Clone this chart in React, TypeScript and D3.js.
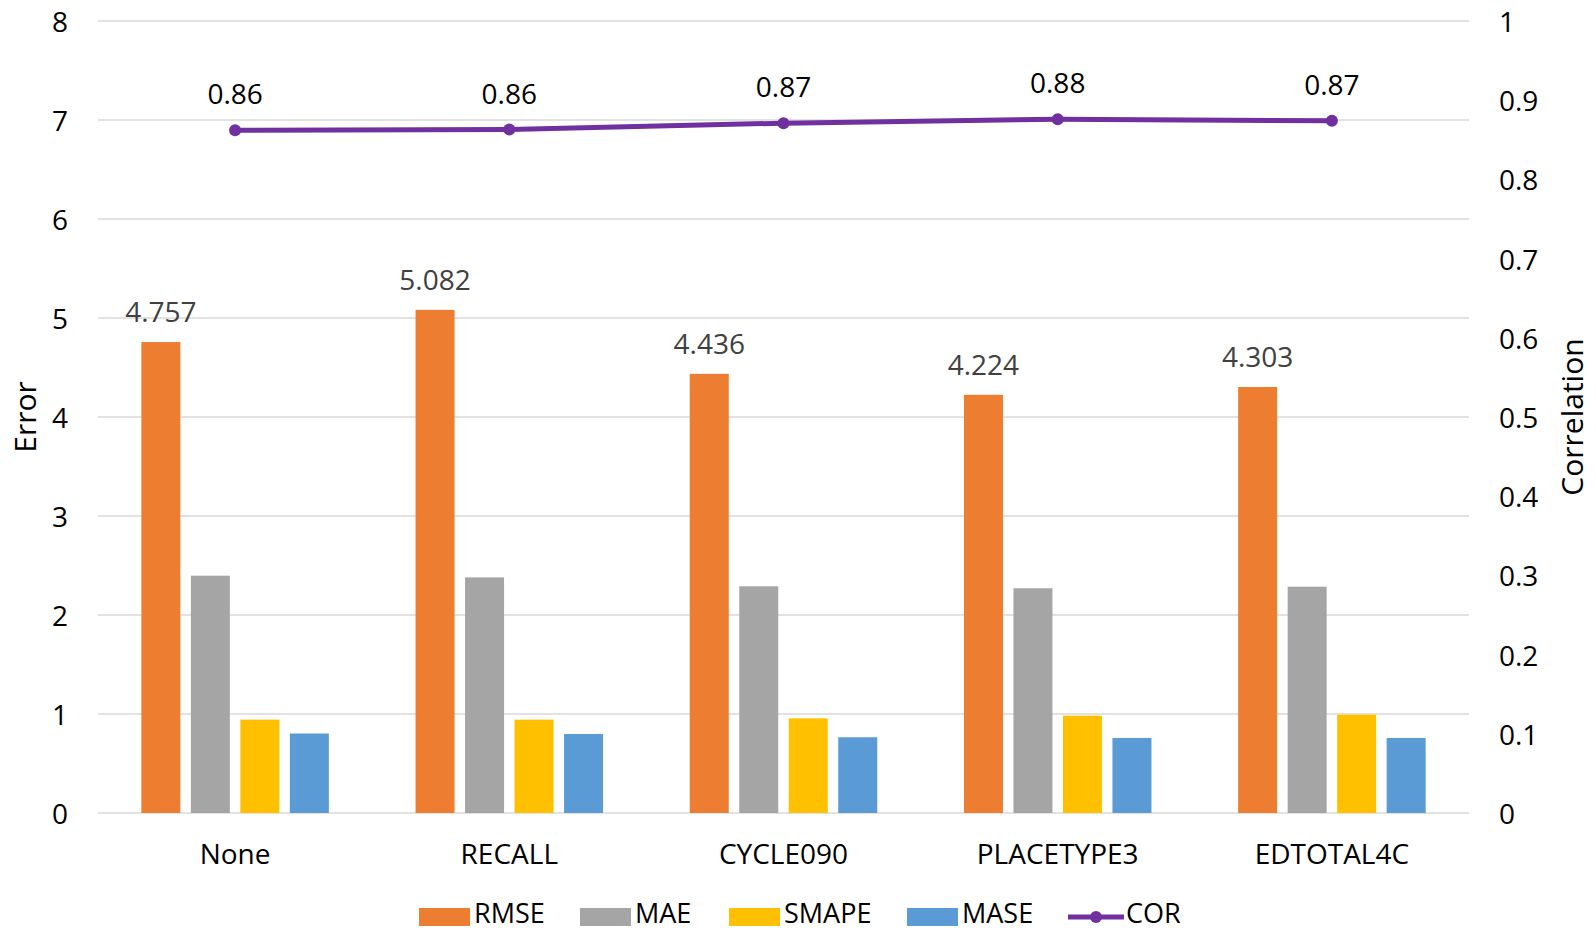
import React from "react";
import * as d3 from "d3";

const categories = ["None", "RECALL", "CYCLE090", "PLACETYPE3", "EDTOTAL4C"];
const seriesNames = ["RMSE", "MAE", "SMAPE", "MASE"];
const seriesColors = ["#ED7D31", "#A5A5A5", "#FFC000", "#5B9BD5"];
const rmse = [4.757, 5.082, 4.436, 4.224, 4.303];
const mae = [2.397, 2.38, 2.29, 2.27, 2.286];
const smape = [0.943, 0.943, 0.956, 0.983, 0.993];
const mase = [0.803, 0.798, 0.765, 0.758, 0.758];
const cor = [0.862, 0.863, 0.871, 0.876, 0.874];
const corLabels = ["0.86", "0.86", "0.87", "0.88", "0.87"];
const leftTicks = [0, 1, 2, 3, 4, 5, 6, 7, 8];
const rightTicks = [0, 0.1, 0.2, 0.3, 0.4, 0.5, 0.6, 0.7, 0.8, 0.9, 1];
const corColor = "#7030A0";

const W = 1596;
const H = 930;
const FONT = "'Open Sans', sans-serif";
const FS = 28;

export default function App() {
  const left = 98, right = 1469, top = 21, bottom = 813;
  const x = d3.scaleBand<string>().domain(categories).range([left, right]).padding(0);
  const inner = d3
    .scaleBand<string>()
    .domain(seriesNames)
    .range([-99, 99])
    .paddingInner(0.212)
    .paddingOuter(0.106);
  const yL = d3.scaleLinear().domain([0, 8]).range([bottom, top]);
  const yR = d3.scaleLinear().domain([0, 1]).range([bottom, top]);
  const series = [rmse, mae, smape, mase];
  const cx = (c: string) => (x(c) as number) + x.bandwidth() / 2;
  const line = d3
    .line<number>()
    .x((_, i) => cx(categories[i]))
    .y((d) => yR(d));

  const legendItems = [
    { name: "RMSE", x: 419, color: seriesColors[0] },
    { name: "MAE", x: 580, color: seriesColors[1] },
    { name: "SMAPE", x: 729, color: seriesColors[2] },
    { name: "MASE", x: 907, color: seriesColors[3] },
  ];
  const legY = 912;

  return (
    <svg
      width={W}
      height={H}
      style={{ position: "absolute", left: 0, top: 0, background: "#fff" }}
      fontFamily={FONT}
    >
      {leftTicks.map((t) => (
        <line key={"g" + t} x1={left} x2={right} y1={yL(t)} y2={yL(t)} stroke="#D9D9D9" strokeWidth={1.5} />
      ))}
      {leftTicks.map((t) => (
        <text key={"l" + t} x={68} y={yL(t)} textAnchor="end" dominantBaseline="central" fontSize={FS} fill="#000">
          {t}
        </text>
      ))}
      {rightTicks.map((t) => (
        <text key={"r" + t} x={1499} y={yR(t)} textAnchor="start" dominantBaseline="central" fontSize={FS} fill="#000">
          {d3.format("~g")(t)}
        </text>
      ))}
      {categories.map((c, ci) => (
        <g key={c}>
          {series.map((s, si) => (
            <rect
              key={si}
              x={cx(c) + (inner(seriesNames[si]) as number)}
              y={yL(s[ci])}
              width={inner.bandwidth()}
              height={bottom - yL(s[ci])}
              fill={seriesColors[si]}
            />
          ))}
          <text
            x={cx(c) + (inner("RMSE") as number) + inner.bandwidth() / 2}
            y={yL(rmse[ci]) - 31}
            textAnchor="middle"
            dominantBaseline="central"
            fontSize={FS}
            fill="#404040"
          >
            {d3.format(".3f")(rmse[ci])}
          </text>
          <text x={cx(c)} y={853} textAnchor="middle" dominantBaseline="central" fontSize={FS} fill="#000">
            {c}
          </text>
        </g>
      ))}
      <path d={line(cor) || ""} fill="none" stroke={corColor} strokeWidth={5} />
      {cor.map((v, i) => (
        <g key={"c" + i}>
          <circle cx={cx(categories[i])} cy={yR(v)} r={6} fill={corColor} />
          <text
            x={cx(categories[i])}
            y={yR(v) - 37}
            textAnchor="middle"
            dominantBaseline="central"
            fontSize={FS}
            fill="#000"
          >
            {corLabels[i]}
          </text>
        </g>
      ))}
      <text
        transform={`translate(24,417) rotate(-90)`}
        textAnchor="middle"
        dominantBaseline="central"
        fontSize={30}
        fill="#000"
      >
        Error
      </text>
      <text
        transform={`translate(1571,417) rotate(-90)`}
        textAnchor="middle"
        dominantBaseline="central"
        fontSize={30}
        fill="#000"
      >
        Correlation
      </text>
      {legendItems.map((it) => (
        <g key={it.name}>
          <rect x={it.x} y={908} width={51} height={18} fill={it.color} />
          <text x={it.x + 55} y={legY} dominantBaseline="central" fontSize={27} fill="#000">
            {it.name}
          </text>
        </g>
      ))}
      <line x1={1068} x2={1124} y1={917} y2={917} stroke={corColor} strokeWidth={5} />
      <circle cx={1096} cy={917} r={6} fill={corColor} />
      <text x={1126} y={legY} dominantBaseline="central" fontSize={27} fill="#000">
        COR
      </text>
    </svg>
  );
}
